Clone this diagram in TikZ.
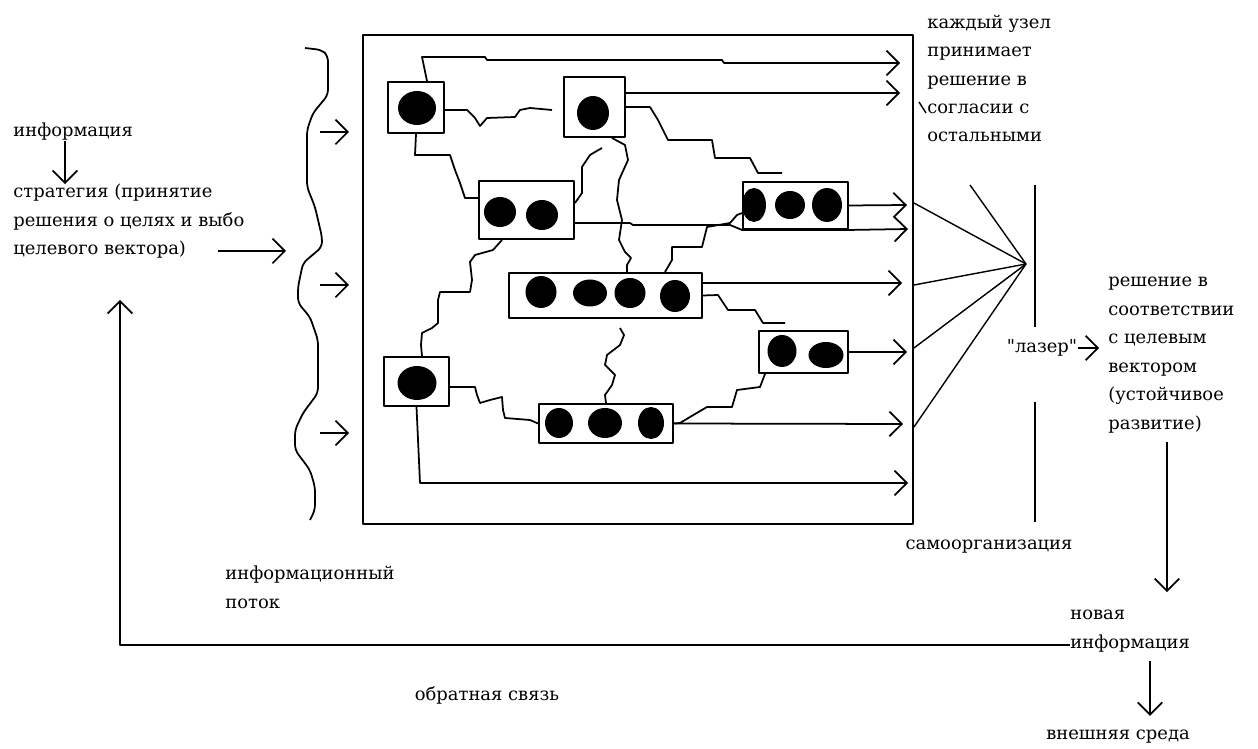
\documentclass[tikz,border=0pt]{standalone}
\usepackage{fontspec}
\setmainfont{DejaVu Serif}[Ligatures=TeXOff]
\usetikzlibrary{arrows.meta,fit}

\tikzset{
  knot/.style={draw, line width=1.1pt, inner sep=0pt},
  tip/.style={-{Straight Barb[length=7pt,width=14pt]}},
  wire/.style={line width=1pt},
  ray/.style={line width=0.8pt},
  txt/.style={font=\fontsize{10.2}{16.2}\selectfont, align=left, inner sep=0pt}
}

\begin{document}
\begin{tikzpicture}[x=0.02cm, y=-0.02cm, line join=round]
\useasboundingbox (0,0) rectangle (1258,749);

% frame and nodes
\node[knot, fit={(363,35) (913,524)}] (net) {};
\node[knot, fit={(388,82) (444,133)}] (a) {};
\node[knot, fit={(564,77) (625,137)}] (b) {};
\node[knot, fit={(479,181) (574,239)}] (c) {};
\node[knot, fit={(743,182) (848,229)}] (d) {};
\node[knot, fit={(509,273) (702,318)}] (e) {};
\node[knot, fit={(759,331) (848,373)}] (f) {};
\node[knot, fit={(384,357) (449,406)}] (g) {};
\node[knot, fit={(539,404) (673,443)}] (h) {};

% dots
\fill (417,108) ellipse [x radius=19, y radius=17];
\fill (593,113) ellipse [x radius=16, y radius=17];
\fill (500,212) ellipse [x radius=16, y radius=15];
\fill (542,215) ellipse [x radius=16, y radius=15];
\fill (754,205) ellipse [x radius=12, y radius=17];
\fill (790,205) ellipse [x radius=15, y radius=14];
\fill (827,205) ellipse [x radius=15, y radius=17];
\fill (541,292) ellipse [x radius=15.5, y radius=16];
\fill (590,293) ellipse [x radius=17, y radius=13.5];
\fill (630,293) ellipse [x radius=15.5, y radius=15];
\fill (675,296) ellipse [x radius=15, y radius=16];
\fill (782,351) ellipse [x radius=14.5, y radius=16];
\fill (826,355) ellipse [x radius=17.5, y radius=13];
\fill (417,383) ellipse [x radius=19.5, y radius=17];
\fill (559,423) ellipse [x radius=14, y radius=15];
\fill (605,423) ellipse [x radius=17, y radius=15];
\fill (651,423) ellipse [x radius=13, y radius=16];

% outputs and loose ends
\coordinate (o1) at (900,63);
\coordinate (o2) at (900,93);
\coordinate (o3) at (907,205);
\coordinate (o4) at (908,229);
\coordinate (o5) at (902,283);
\coordinate (o6) at (907,352);
\coordinate (o7) at (903,424);
\coordinate (o8) at (908,483);
\coordinate (w1) at (552,110);
\coordinate (w2) at (782,173);
\coordinate (w3) at (602,148);
\coordinate (w4) at (785,323);
\coordinate (w5) at (620,328);

% links
\draw[wire,tip] (a.north -| 427,0) -- (422,57) -- (485,57) -- (487,60) -- (722,60) -- (724,63) -- (o1);
\draw[wire,tip] (b.east |- o2) -- (o2);
\draw[wire] (b.east) -- (650,107) -- (658,120) -- (668,140) -- (712,140) -- (715,158) -- (750,158) -- (758,173) -- (w2);
\draw[wire] (a.south) -- (415,155) -- (450,155) -- (455,170) -- (460,183) -- (465,198) -- (c.west |- 0,198);
\draw[wire] (a.east |- 0,110) -- (467,110) -- (475,118) -- (480,126) -- (487,118) -- (515,117) -- (520,110) -- (530,108) -- (w1);
\draw[wire,tip] (c.east |- 0,223) -- (630,223) -- (633,225) -- (730,225) -- (d.south west) -- (d.south east) -- (o4);
\draw[wire,tip] (d.east) -- (o3);
\draw[wire] (b.south -| 612,0) -- (625,145) -- (628,160) -- (619,180) -- (617,200) -- (622,220) -- (619,240) -- (625,252) -- (631,258) -- (627,265) -- (e.north -| 627,0);
\draw[wire] (c.east |- 0,203) -- (582,193) -- (582,167) -- (590,155) -- (595,152) -- (w3);
\draw[wire] (c.south -| 502,0) -- (493,250) -- (475,255) -- (470,262) -- (472,280) -- (470,292) -- (440,292) -- (438,300) -- (438,323) -- (432,328) -- (422,333) -- (421,345) -- (g.north -| 422,0);
\draw[wire] (e.north -| 665,0) -- (672,260) -- (672,247) -- (702,247) -- (707,227) -- (730,223) -- (737,215) -- (d.west |- 0,213);
\draw[wire,tip] (e.east |- o5) -- (o5);
\draw[wire] (e.east) -- (718,295) -- (728,310) -- (755,310) -- (763,323) -- (w4);
\draw[wire,tip] (f.east |- o6) -- (o6);
\draw[wire] (f.south -| 765,0) -- (760,387) -- (737,390) -- (732,407) -- (707,407) -- (690,417) -- (680,423) -- (h.east);
\draw[wire,tip] (h.east) -- (o7);
\draw[wire] (g.east |- 0,387) -- (475,387) -- (477,395) -- (480,403) -- (490,400) -- (502,397) -- (503,410) -- (505,418) -- (530,420) -- (h.west);
\draw[wire] (w5) -- (624,335) -- (620,345) -- (607,355) -- (605,365) -- (615,375) -- (612,385) -- (605,395) -- (h.north);
\draw[wire,tip] (g.south) -- (420,483) -- (o8);

% information flow brace
\draw[wire, rounded corners=3pt] (305,48) -- (322,50) -- (328,56) -- (328,95) -- (313,113) -- (307,130) -- (307,187) -- (315,207) -- (322,237) -- (322,247) -- (303,263) -- (298,287) -- (298,303) -- (310,317) -- (318,340) -- (318,393) -- (303,413) -- (295,430) -- (295,450) -- (310,470) -- (315,487) -- (315,510) -- (310,520);
\foreach \yy in {132,285,433}
  \draw[wire,tip] (320,\yy) -- (349,\yy);

% left texts
\node[txt, anchor=west] (info) at (13,132) {информация};
\node[txt, anchor=west] (strat) at (13,221.5) {стратегия (принятие\\решения о целях и выбо\\целевого вектора)};
\draw[wire,tip] (info.south -| 65,0) -- (strat.north -| 65,0);
\coordinate (s1) at (218,251);
\coordinate (s2) at (286,251);
\draw[wire,tip] (s1) -- (s2);

% top right note
\node[txt, anchor=west] (note) at (927,78.5) {каждый узел\\принимает\\решение в\\согласии с\\остальными};
\draw[ray] (919,102) -- (926,113);

% laser fan
\coordinate (las) at (1026,264);
\draw[ray] (970,185) -- (las);
\foreach \yy in {203,285,348,427}
  \draw[ray] (net.east |- 0,\yy) -- (las);
\draw[ray] (1035,185) -- (1035,327);
\draw[ray] (1035,402) -- (1035,522);

% right texts
\node[txt] (laz) at (1042,348) {"лазер"};
\node[txt, anchor=west] (resh) at (1108,355) {решение в\\соответствии\\с целевым\\вектором\\(устойчивое\\развитие)};
\draw[wire,tip, shorten >=5pt] (laz.east) -- (resh.west |- laz.east);
\node[txt] (self) at (989,547) {самоорганизация};
\node[txt, anchor=west] (nov) at (1070,631) {новая\\информация};
\draw[wire,tip, shorten <=5pt, shorten >=10pt] (resh.south -| 1167,0) -- (nov.north -| 1167,0);
\coordinate (fb) at (120,300);
\draw[wire,tip] (nov.west |- 0,645) -| (fb);
\node[txt] (ext) at (1118,737) {внешняя среда};
\draw[wire,tip, shorten <=5pt, shorten >=8pt] (nov.south -| 1150,0) -- (ext.north -| 1150,0);
\node[txt, anchor=west] (flow) at (225,587.5) {информационный\\поток};
\node[txt] (back) at (487,695) {обратная связь};
\end{tikzpicture}
\end{document}
